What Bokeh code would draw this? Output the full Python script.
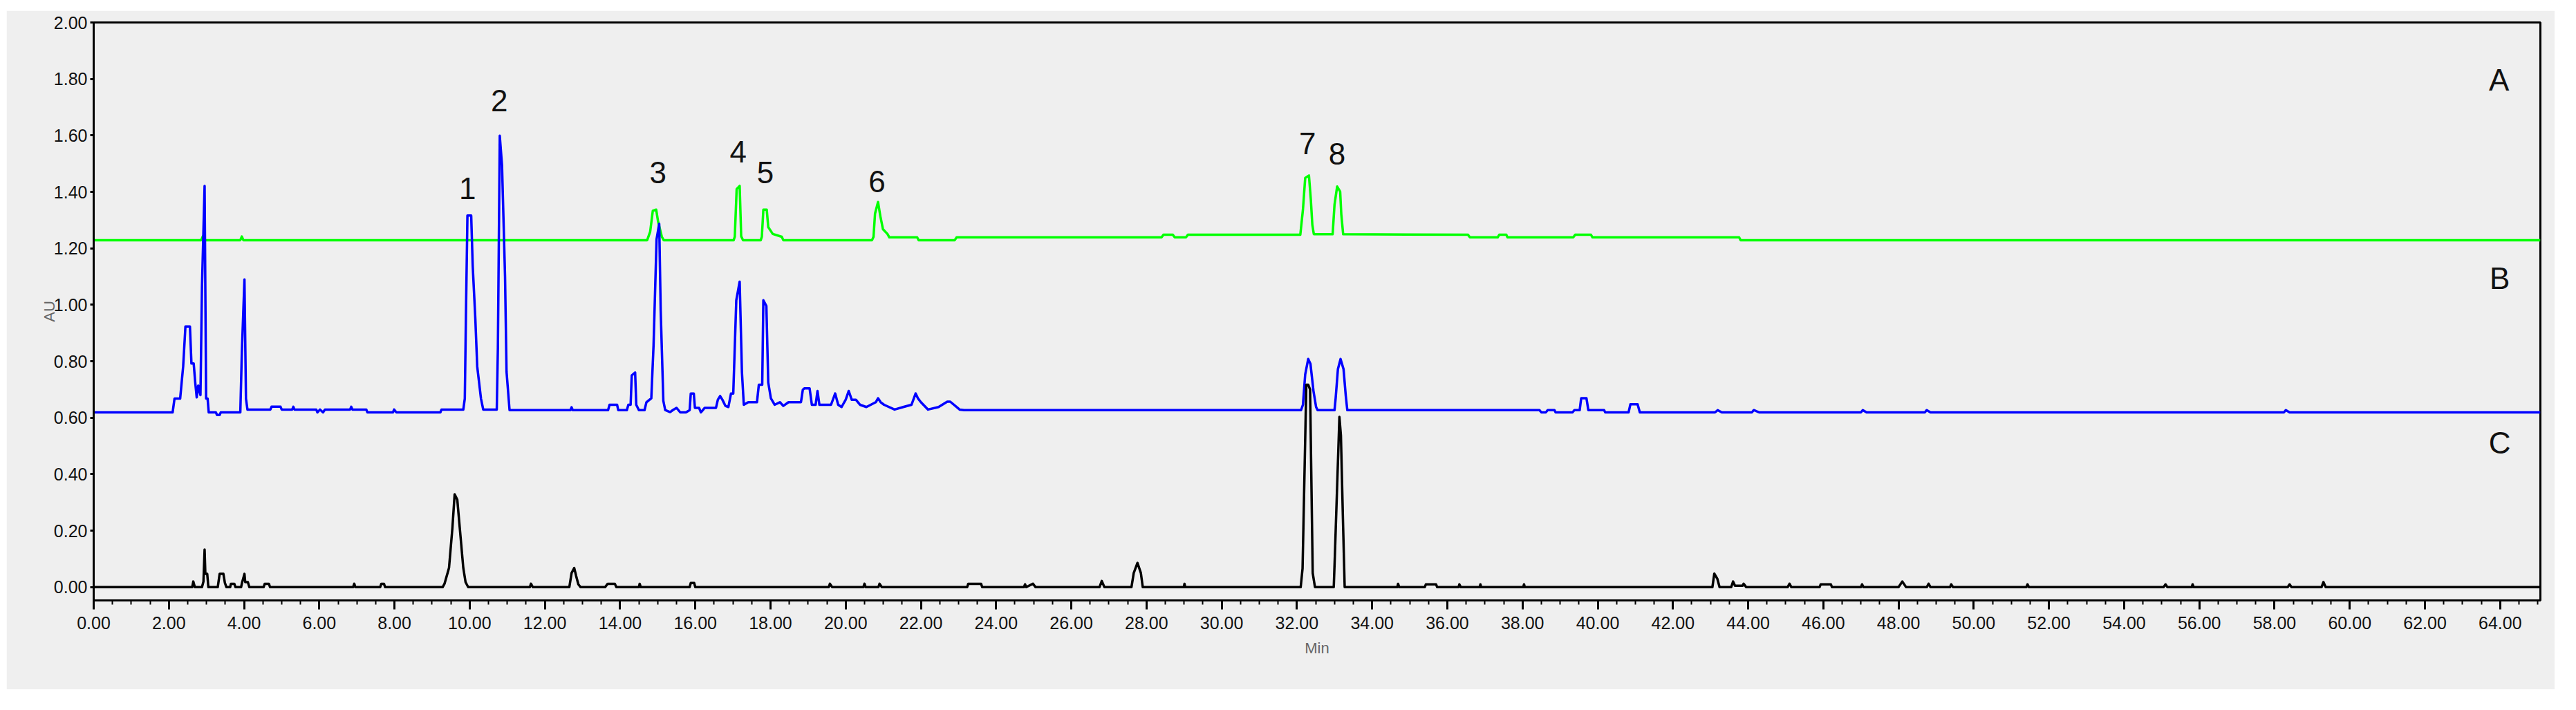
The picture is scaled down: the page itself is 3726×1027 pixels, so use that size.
from bokeh.plotting import figure
from bokeh.models import FixedTicker, NumeralTickFormatter, Range1d
from bokeh.embed import file_html
from bokeh.resources import INLINE
from bokeh.core.properties import value

# ---------------- data (retention time in min, absorbance in AU) ----------------
time_A = [0.0, 2.86, 2.9, 2.94, 3.9, 3.94, 3.98,
          14.72, 14.80, 14.87, 14.96, 15.01, 15.11, 15.16,
          17.02, 17.05, 17.10, 17.18, 17.22, 17.27,
          17.74, 17.77, 17.81, 17.90, 17.94, 18.06, 18.30, 18.34,
          20.70, 20.74, 20.78, 20.86, 20.92, 20.99, 21.11, 21.16, 21.90, 21.94,
          22.9, 22.95, 28.4, 28.45, 28.7, 28.75, 29.05, 29.1,
          32.09, 32.16, 32.22, 32.32, 32.37, 32.41, 32.45,
          32.95, 33.0, 33.07, 33.15, 33.18, 33.23,
          36.55, 36.6, 37.34, 37.38, 37.57, 37.6, 39.35, 39.4, 39.82, 39.86,
          43.76, 43.8, 65.07]
au_A = [1.229, 1.229, 1.242, 1.229, 1.229, 1.242, 1.229,
        1.229, 1.259, 1.333, 1.337, 1.295, 1.241, 1.229,
        1.229, 1.241, 1.41, 1.421, 1.243, 1.229,
        1.229, 1.241, 1.337, 1.337, 1.275, 1.251, 1.241, 1.229,
        1.229, 1.241, 1.323, 1.364, 1.315, 1.268, 1.251, 1.239, 1.239, 1.229,
        1.229, 1.239, 1.239, 1.248, 1.248, 1.239, 1.239, 1.248,
        1.248, 1.337, 1.449, 1.458, 1.373, 1.283, 1.25,
        1.25, 1.355, 1.419, 1.401, 1.321, 1.25,
        1.248, 1.239, 1.239, 1.248, 1.248, 1.239, 1.239, 1.248, 1.248, 1.239,
        1.239, 1.229, 1.229]

time_B = [0.0, 2.10, 2.15, 2.30, 2.38, 2.44, 2.56, 2.6, 2.66, 2.70, 2.74, 2.78, 2.84, 2.88,
          2.95, 2.99, 3.03, 3.06, 3.25, 3.28, 3.35, 3.38, 3.90, 3.94, 4.01, 4.05, 4.09,
          4.70, 4.73, 4.97, 5.0, 5.28, 5.31, 5.34, 5.92, 5.95, 6.02, 6.10, 6.15, 6.82, 6.85, 6.88,
          7.25, 7.28, 7.96, 7.99, 8.05, 9.22, 9.25,
          9.83, 9.87, 9.9, 9.94, 10.04, 10.08, 10.15, 10.2, 10.3, 10.36,
          10.72, 10.75, 10.80, 10.86, 10.94, 10.98, 11.06,
          12.68, 12.71, 12.74, 13.68, 13.72, 13.92, 13.95, 14.18, 14.22, 14.28, 14.31, 14.40,
          14.43, 14.5, 14.65, 14.7, 14.83, 14.89, 14.97, 15.04, 15.08, 15.15, 15.2,
          15.33, 15.4, 15.5, 15.6, 15.75, 15.85, 15.88, 15.96, 15.99, 16.1, 16.15, 16.25,
          16.55, 16.6, 16.66, 16.72, 16.8, 16.88, 16.95, 17.01, 17.09, 17.18, 17.24, 17.29,
          17.41, 17.64, 17.69, 17.78, 17.81, 17.89, 17.94, 18.01, 18.11, 18.25, 18.34, 18.48,
          18.81, 18.86, 18.90, 19.04, 19.1, 19.2, 19.25, 19.3, 19.61, 19.72, 19.8, 19.89,
          20.0, 20.08, 20.16, 20.27, 20.38, 20.55, 20.8, 20.86, 20.93, 21.02, 21.3, 21.53,
          21.75, 21.86, 21.92, 22.0, 22.19, 22.47, 22.7, 22.78, 23.03, 23.15,
          32.11, 32.16, 32.22, 32.30, 32.36, 32.44, 32.51, 32.55,
          33.0, 33.03, 33.09, 33.16, 33.24, 33.30, 33.34,
          38.45, 38.5, 38.62, 38.67, 38.85, 38.88, 39.33, 39.38, 39.52, 39.56, 39.70, 39.75,
          40.17, 40.2, 40.82, 40.87, 41.06, 41.12, 43.12, 43.19, 43.3, 44.1, 44.15, 44.3,
          47.0, 47.05, 47.15, 48.7, 48.75, 48.85, 58.25, 58.3, 58.4, 65.07]
au_B = [0.619, 0.619, 0.668, 0.668, 0.782, 0.923, 0.923, 0.792, 0.792, 0.726, 0.672, 0.714, 0.68, 1.063,
        1.421, 0.668, 0.668, 0.619, 0.619, 0.61, 0.61, 0.619, 0.619, 0.829, 1.09, 0.668, 0.629,
        0.629, 0.639, 0.639, 0.629, 0.629, 0.639, 0.629, 0.629, 0.619, 0.629, 0.619, 0.629, 0.629, 0.639, 0.629,
        0.629, 0.619, 0.619, 0.629, 0.619, 0.619, 0.629,
        0.629, 0.668, 0.96, 1.316, 1.316, 1.139, 0.951, 0.782, 0.668, 0.629,
        0.629, 0.849, 1.599, 1.494, 1.102, 0.763, 0.627,
        0.627, 0.637, 0.627, 0.627, 0.646, 0.646, 0.627, 0.627, 0.646, 0.646, 0.750, 0.760,
        0.646, 0.627, 0.627, 0.655, 0.669, 0.857, 1.232, 1.287, 0.979, 0.66, 0.627,
        0.62, 0.627, 0.635, 0.619, 0.619, 0.627, 0.686, 0.686, 0.635, 0.635, 0.619, 0.635,
        0.635, 0.664, 0.677, 0.664, 0.642, 0.638, 0.686, 0.686, 1.016, 1.082, 0.762, 0.646,
        0.655, 0.655, 0.717, 0.717, 1.016, 0.996, 0.725, 0.669, 0.646, 0.655, 0.642, 0.655,
        0.655, 0.699, 0.704, 0.704, 0.646, 0.646, 0.695, 0.646, 0.646, 0.686, 0.646, 0.638,
        0.664, 0.695, 0.664, 0.664, 0.646, 0.638, 0.655, 0.669, 0.655, 0.646, 0.629, 0.638,
        0.646, 0.686, 0.669, 0.655, 0.629, 0.638, 0.657, 0.657, 0.629, 0.627,
        0.627, 0.646, 0.753, 0.808, 0.791, 0.695, 0.638, 0.627,
        0.627, 0.669, 0.772, 0.808, 0.772, 0.677, 0.627,
        0.627, 0.619, 0.619, 0.627, 0.627, 0.619, 0.619, 0.627, 0.627, 0.669, 0.669, 0.627,
        0.627, 0.619, 0.619, 0.648, 0.648, 0.619, 0.619, 0.627, 0.619, 0.619, 0.627, 0.619,
        0.619, 0.627, 0.619, 0.619, 0.627, 0.619, 0.619, 0.627, 0.619, 0.619]

time_C = [0.0, 2.62, 2.65, 2.69, 2.88, 2.92, 2.95, 2.97, 3.02, 3.05, 3.30, 3.35, 3.45, 3.49, 3.53,
          3.63, 3.65, 3.74, 3.77, 3.92, 3.95, 4.01, 4.03, 4.10, 4.14, 4.52, 4.55, 4.66, 4.69,
          6.90, 6.93, 6.96, 7.62, 7.65, 7.72, 7.75,
          9.28, 9.33, 9.45, 9.54, 9.60, 9.67, 9.75, 9.83, 9.89, 9.96,
          11.6, 11.63, 11.68, 12.65, 12.71, 12.78, 12.83, 12.89, 12.95, 13.6, 13.67, 13.86, 13.9,
          14.5, 14.52, 14.55, 15.85, 15.88, 15.97, 16.0,
          19.55, 19.58, 19.64, 20.47, 20.5, 20.53, 20.87, 20.9, 20.96, 23.23, 23.26, 23.6, 23.63,
          24.74, 24.77, 24.8, 24.98, 25.05, 26.75, 26.81, 26.88,
          27.6, 27.66, 27.76, 27.85, 27.9, 28.99, 29.01, 29.03,
          32.10, 32.15, 32.25, 32.30, 32.35, 32.42, 32.48,
          32.98, 33.01, 33.13, 33.17, 33.23, 33.27,
          34.67, 34.69, 34.72, 35.4, 35.43, 35.7, 35.73, 36.3, 36.32, 36.36, 36.86, 36.88, 36.9,
          38.02, 38.04, 38.06,
          43.05, 43.1, 43.18, 43.24, 43.55, 43.6, 43.65, 43.85, 43.88, 43.95, 45.05, 45.1, 45.15,
          45.9, 45.93, 46.2, 46.23, 47.0, 47.03, 47.07, 48.0, 48.1, 48.2, 48.75, 48.8, 48.85,
          49.37, 49.4, 49.45, 51.4, 51.43, 51.47, 55.05, 55.1, 55.15, 55.8, 55.82, 55.85,
          58.35, 58.4, 58.45, 59.25, 59.3, 59.36, 65.07]
au_C = [0.0, 0.0, 0.02, 0.0, 0.0, 0.02, 0.133, 0.047, 0.047, 0.0, 0.0, 0.047, 0.047, 0.015, 0.0,
        0.0, 0.012, 0.012, 0.0, 0.0, 0.018, 0.047, 0.018, 0.018, 0.0, 0.0, 0.012, 0.012, 0.0,
        0.0, 0.012, 0.0, 0.0, 0.012, 0.012, 0.0,
        0.0, 0.012, 0.068, 0.209, 0.329, 0.31, 0.189, 0.068, 0.018, 0.0,
        0.0, 0.012, 0.0, 0.0, 0.05, 0.068, 0.04, 0.01, 0.0, 0.0, 0.012, 0.012, 0.0,
        0.0, 0.012, 0.0, 0.0, 0.015, 0.015, 0.0,
        0.0, 0.012, 0.0, 0.0, 0.012, 0.0, 0.0, 0.012, 0.0, 0.0, 0.012, 0.012, 0.0,
        0.0, 0.01, 0.0, 0.012, 0.0, 0.0, 0.022, 0.0,
        0.0, 0.05, 0.086, 0.05, 0.0, 0.0, 0.012, 0.0,
        0.0, 0.066, 0.717, 0.717, 0.70, 0.05, 0.0,
        0.0, 0.115, 0.603, 0.537, 0.209, 0.0,
        0.0, 0.012, 0.0, 0.0, 0.01, 0.01, 0.0, 0.0, 0.01, 0.0, 0.0, 0.01, 0.0,
        0.0, 0.01, 0.0,
        0.0, 0.048, 0.03, 0.0, 0.0, 0.02, 0.005, 0.005, 0.012, 0.0, 0.0, 0.012, 0.0,
        0.0, 0.01, 0.01, 0.0, 0.0, 0.01, 0.0, 0.0, 0.02, 0.0, 0.0, 0.012, 0.0,
        0.0, 0.01, 0.0, 0.0, 0.01, 0.0, 0.0, 0.01, 0.0, 0.0, 0.01, 0.0,
        0.0, 0.01, 0.0, 0.0, 0.018, 0.0, 0.0]

peak_numbers = ["1", "2", "3", "4", "5", "6", "7", "8"]
peak_label_time = [9.94, 10.79, 15.01, 17.14, 17.86, 20.83, 32.28, 33.07]
peak_label_au = [1.412, 1.723, 1.469, 1.543, 1.469, 1.438, 1.572, 1.534]

trace_names = ["A", "B", "C"]
trace_label_time = [63.97, 63.99, 63.99]
trace_label_au = [1.797, 1.094, 0.512]

x_ticks = [0, 2, 4, 6, 8, 10, 12, 14, 16, 18, 20, 22, 24, 26, 28, 30, 32,
           34, 36, 38, 40, 42, 44, 46, 48, 50, 52, 54, 56, 58, 60, 62, 64]
y_ticks = [0.0, 0.2, 0.4, 0.6, 0.8, 1.0, 1.2, 1.4, 1.6, 1.8, 2.0]

# ---------------- figure ----------------
PANEL = "#efefef"
TICK_FONT = "Liberation Sans"

p = figure(frame_width=3539, frame_height=836,
           x_range=Range1d(0, 65.07), y_range=Range1d(-0.047, 2.0),
           output_backend="svg", toolbar_location=None,
           min_border_left=126, min_border_right=21, min_border_top=17, min_border_bottom=129,
           background_fill_color=PANEL, border_fill_color=PANEL,
           outline_line_color="black", outline_line_width=3)
p.margin = (15, 0, 0, 9)
p.xgrid.visible = False
p.ygrid.visible = False

lw = 3.5
p.line(time_A, au_A, line_color="#00ff00", line_width=lw, line_join="round")
p.line(time_B, au_B, line_color="#0000ff", line_width=lw, line_join="round")
p.line(time_C, au_C, line_color="#000000", line_width=lw, line_join="round")

p.text(x=peak_label_time, y=peak_label_au, text=peak_numbers,
       text_font=value("Liberation Sans"), text_font_size="44px",
       text_align="center", text_baseline="middle", text_color="#111111")
p.text(x=trace_label_time, y=trace_label_au, text=trace_names,
       text_font=value("Liberation Sans"), text_font_size="44px",
       text_align="center", text_baseline="middle", text_color="#111111")

minor = [i * 0.5 for i in range(131)]
xa = p.xaxis[0]
xa.ticker = FixedTicker(ticks=x_ticks, minor_ticks=minor)
xa.formatter = NumeralTickFormatter(format="0.00")
xa.axis_label = "Min"
ya = p.yaxis[0]
ya.ticker = FixedTicker(ticks=y_ticks)
ya.formatter = NumeralTickFormatter(format="0.00")
ya.axis_label = "AU"

for ax in (xa, ya):
    ax.axis_line_width = 3
    ax.axis_line_color = "black"
    ax.major_tick_in = 0
    ax.minor_tick_in = 0
    ax.major_tick_line_width = 3
    ax.major_tick_line_color = "black"
    ax.major_label_text_font = TICK_FONT
    ax.major_label_text_font_size = "25px"
    ax.major_label_text_color = "#111111"
    ax.axis_label_text_font = "Liberation Sans"
    ax.axis_label_text_font_style = "normal"
    ax.axis_label_text_font_size = "22px"
    ax.axis_label_text_color = "#666666"

xa.major_tick_out = 13
xa.minor_tick_out = 6
xa.minor_tick_line_width = 2
xa.minor_tick_line_color = "black"
xa.major_label_standoff = 10
xa.axis_label_standoff = 12

ya.major_tick_out = 5
ya.minor_tick_line_color = None
ya.major_label_standoff = 4
ya.axis_label_standoff = -9

open("out.html", "w").write(file_html(p, INLINE))
